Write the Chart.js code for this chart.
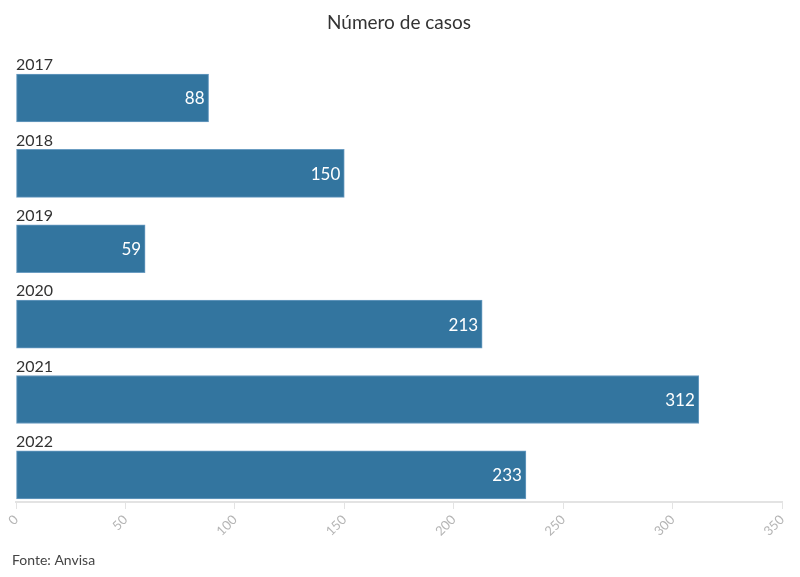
<!DOCTYPE html>
<html>
<head>
<meta charset="utf-8">
<script src="https://cdn.jsdelivr.net/npm/chart.js@4/dist/chart.umd.min.js"></script>
<style>
  body { margin: 0; background: #fff; }
  canvas { display: block; }
</style>
</head>
<body>
<canvas id="chart" width="800" height="577"></canvas>
<script>
const years = ['2017', '2018', '2019', '2020', '2021', '2022']
const cases = [88, 150, 59, 213, 312, 233]
const xTicks = [0, 50, 100, 150, 200, 250, 300, 350]

const FONT = 'Lato, "Liberation Sans", sans-serif'
const barColor = '#33759f'

// year labels above each bar + value inside bar end
const barLabels = {
  id: 'barLabels',
  afterDatasetsDraw(chart) {
    const { ctx } = chart
    const meta = chart.getDatasetMeta(0)
    ctx.save()
    meta.data.forEach((bar, i) => {
      const { x, y, height } = bar.getProps(['x', 'y', 'height'], true)
      const top = y - height / 2
      ctx.font = '16px ' + FONT
      ctx.fillStyle = '#333'
      ctx.textAlign = 'left'
      ctx.textBaseline = 'bottom'
      ctx.fillText(years[i], chart.chartArea.left, top - 1)

      ctx.font = '17px ' + FONT
      ctx.fillStyle = '#fff'
      ctx.textAlign = 'right'
      ctx.textBaseline = 'middle'
      ctx.fillText(String(cases[i]), x - 4, y + 1)
    })
    ctx.restore()
  }
}

const footnote = {
  id: 'footnote',
  afterDraw(chart) {
    const { ctx } = chart
    ctx.save()
    ctx.font = '14px ' + FONT
    ctx.fillStyle = '#444'
    ctx.textAlign = 'left'
    ctx.textBaseline = 'middle'
    ctx.fillText('Fonte: Anvisa', 12, 560)
    ctx.restore()
  }
}

new Chart(document.getElementById('chart'), {
  type: 'bar',
  data: {
    datasets: [{
      data: cases.map((v, i) => ({ x: v, y: i })),
      backgroundColor: barColor,
      borderColor: '#6b9dc2',
      borderWidth: 1,
      borderSkipped: false,
      barThickness: 48
    }]
  },
  options: {
    indexAxis: 'y',
    responsive: false,
    animation: false,
    layout: {
      padding: { left: 16, right: 18, top: 0, bottom: 0 }
    },
    scales: {
      y: {
        type: 'linear',
        reverse: true,
        offset: false,
        min: -0.5,
        max: 5.36,
        display: false
      },
      x: {
        type: 'linear',
        min: 0,
        max: 350,
        afterBuildTicks(scale) {
          scale.ticks = xTicks.map(v => ({ value: v }))
        },
        afterFit(scale) {
          scale.height = 75
          scale.paddingLeft = 0
          scale.paddingRight = 0
        },
        grid: {
          drawOnChartArea: false,
          drawTicks: true,
          tickLength: 7,
          color: '#e3e3e3'
        },
        border: {
          color: '#e3e3e3',
          width: 2
        },
        ticks: {
          minRotation: 45,
          maxRotation: 45,
          padding: 3,
          color: '#b5b5b5',
          font: { family: FONT, size: 13 }
        }
      }
    },
    plugins: {
      legend: { display: false },
      tooltip: { enabled: false },
      title: {
        display: true,
        text: 'Número de casos',
        color: '#333',
        font: { family: FONT, size: 19, weight: 'normal' },
        padding: { top: 11, bottom: 26.5 }
      }
    }
  },
  plugins: [barLabels, footnote]
})
</script>
</body>
</html>
